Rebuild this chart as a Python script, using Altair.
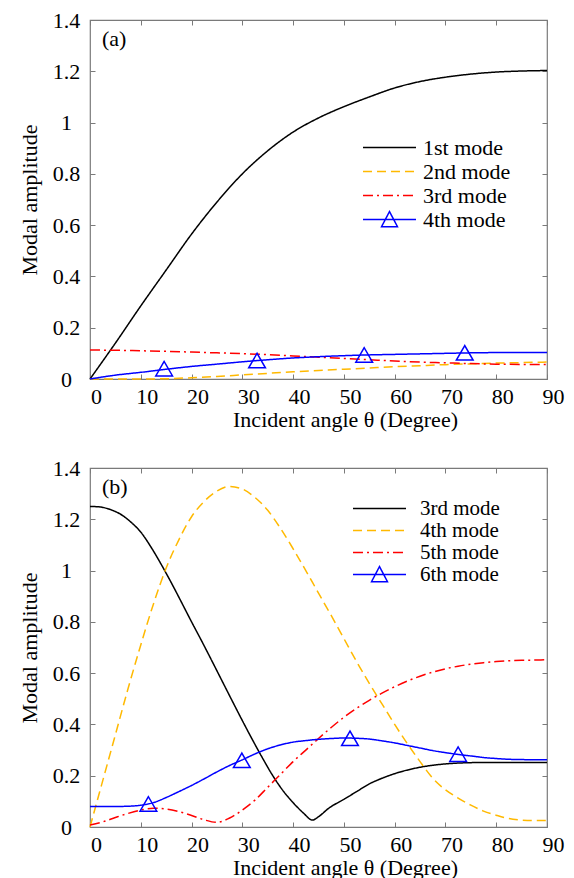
import altair as alt
import pandas as pd

FONT = "Liberation Serif, Times New Roman, Times, serif"
FRAME = "#7a7a7a"

# ---------------- panel (a) ----------------
a_theta = [0, 5, 10, 15, 20, 25, 30, 35, 40, 45, 50, 55, 60, 65, 70, 75, 80, 85, 90]
a_mode1 = [0, 0.14, 0.285, 0.425, 0.565, 0.69, 0.80, 0.89, 0.963, 1.018, 1.062, 1.10, 1.135, 1.16, 1.177, 1.189, 1.197, 1.201, 1.203]
a_mode2 = [0, 0, 0, 0.001, 0.005, 0.01, 0.016, 0.022, 0.028, 0.033, 0.038, 0.043, 0.048, 0.052, 0.056, 0.059, 0.062, 0.064, 0.066]
a_mode3 = [0.113, 0.112, 0.11, 0.108, 0.105, 0.102, 0.099, 0.095, 0.09, 0.085, 0.08, 0.075, 0.07, 0.066, 0.063, 0.06, 0.058, 0.057, 0.057]
a_mode4 = [0, 0.015, 0.026, 0.038, 0.049, 0.058, 0.067, 0.075, 0.082, 0.087, 0.091, 0.094, 0.096, 0.098, 0.1, 0.102, 0.103, 0.103, 0.103]
a_marker_theta = [14.6, 32.9, 54.0, 73.8]
a_marker_amp = [0.04, 0.072, 0.094, 0.102]
a_modes = ["1st mode", "2nd mode", "3rd mode", "4th mode"]

# ---------------- panel (b) ----------------
b_theta3 = [0, 2, 4, 6, 8, 10, 12, 14, 16, 18, 20, 22, 24, 26, 28, 30, 32, 34, 36, 38, 40, 42,
            43.8, 45, 47, 50, 52.5, 55, 57.5, 60, 65, 70, 75, 80, 90]
b_mode3 = [1.25, 1.248, 1.238, 1.22, 1.19, 1.15, 1.092, 1.025, 0.953, 0.877, 0.80, 0.725, 0.648,
           0.57, 0.492, 0.415, 0.34, 0.268, 0.2, 0.142, 0.095, 0.055, 0.027, 0.04, 0.073, 0.108,
           0.138, 0.168, 0.19, 0.208, 0.233, 0.246, 0.251, 0.252, 0.252]
b_theta = [0, 2.5, 5, 7.5, 10, 12.5, 15, 17.5, 20, 22.5, 25, 27.5, 30, 32.5, 35, 37.5, 40, 42.5, 45,
           47.5, 50, 52.5, 55, 57.5, 60, 62.5, 65, 67.5, 70, 72.5, 75, 77.5, 80, 82.5, 85, 87.5, 90]
b_mode4 = [0, 0.18, 0.36, 0.54, 0.71, 0.87, 1.01, 1.12, 1.21, 1.27, 1.31, 1.328, 1.318, 1.285, 1.235,
           1.165, 1.085, 1.0, 0.912, 0.825, 0.735, 0.645, 0.56, 0.48, 0.40, 0.325, 0.255, 0.19, 0.145,
           0.113, 0.085, 0.062, 0.046, 0.033, 0.027, 0.025, 0.025]
b_mode5 = [0.008, 0.02, 0.037, 0.053, 0.066, 0.073, 0.07, 0.06, 0.045, 0.028, 0.018, 0.035, 0.066,
           0.105, 0.155, 0.205, 0.255, 0.30, 0.345, 0.388, 0.428, 0.463, 0.494, 0.522, 0.547, 0.569,
           0.588, 0.604, 0.617, 0.627, 0.635, 0.641, 0.645, 0.648, 0.65, 0.651, 0.652]
b_mode6 = [0.08, 0.08, 0.08, 0.081, 0.085, 0.095, 0.115, 0.138, 0.162, 0.188, 0.215, 0.24, 0.262,
           0.285, 0.305, 0.32, 0.331, 0.337, 0.342, 0.345, 0.347, 0.346, 0.343, 0.336, 0.328, 0.318,
           0.308, 0.298, 0.29, 0.283, 0.277, 0.271, 0.267, 0.264, 0.263, 0.262, 0.262]
b_marker_theta = [11.5, 29.9, 51.2, 72.5]
b_marker_amp = [0.09, 0.26, 0.346, 0.284]
b_modes = ["3rd mode", "4th mode", "5th mode", "6th mode"]

colors = ["#000000", "#FFB900", "#FF0000", "#0000FF"]
dashes = [[1, 0], [9, 5], [10, 4, 2, 4], [1, 0]]

x_ticks = [0, 10, 20, 30, 40, 50, 60, 70, 80, 90]
y_ticks = [0, 0.2, 0.4, 0.6, 0.8, 1.0, 1.2, 1.4]

TRI_PATH = "M-1,0H1M-0.3,0.27L0,-0.3L0.3,0.27Z"

W, H = 457, 359


def long_df(pairs, modes):
    rows = []
    for (xs, ys), m in zip(pairs, modes):
        for xv, yv in zip(xs, ys):
            rows.append({"theta": xv, "amp": yv, "mode": m})
    return pd.DataFrame(rows)


def panel(df, mk_x, mk_y, modes, tri_label, tag, leg_x, leg_y, row_h, lab_off, leg_fs):
    xs = alt.Scale(domain=[0, 90], nice=False, zero=False)
    ys = alt.Scale(domain=[0, 1.4], nice=False, zero=False)
    legend = alt.Legend(
        orient="none", legendX=leg_x, legendY=leg_y, title=None,
        symbolType=alt.ExprRef(f"datum.value === '{tri_label}' ? '{TRI_PATH}' : 'stroke'"),
        symbolSize=2809, symbolStrokeWidth=1.5,
        symbolFillColor="transparent",
        labelFont=FONT, labelFontSize=leg_fs, labelColor="black", labelOffset=lab_off,
        clipHeight=row_h, rowPadding=0, padding=0,
    )
    x_axis = alt.Axis(orient="bottom", values=x_ticks, format="d", offset=-5, tickSize=5,
                      tickColor=FRAME, domain=False, grid=False, labelFont=FONT,
                      labelFontSize=22, labelColor="black", labelPadding=7, labelOffset=6,
                      labelFlush=False, labelOverlap=False,
                      title="Incident angle θ (Degree)", titleFont=FONT, titleFontSize=22,
                      titleFontWeight="normal", titleColor="black", titleX=255, titleY=52,
                      titleBaseline="alphabetic", titleAnchor="middle", titleAlign="center")
    y_axis = alt.Axis(orient="left", values=y_ticks, format="~g", offset=-5, tickSize=5,
                      tickColor=FRAME, domain=False, grid=False, labelFont=FONT,
                      labelFontSize=22, labelColor="black", labelPadding=24,
                      labelAlign="center", labelBaseline="middle", labelFlush=False,
                      labelOverlap=False,
                      title="Modal amplitude", titleFont=FONT, titleFontSize=22,
                      titleFontWeight="normal", titleColor="black", titleX=-66,
                      titleY=H / 2, titleBaseline="middle", titleAlign="center", titleAngle=270)
    x_top = alt.Axis(orient="top", values=x_ticks, offset=-5, tickSize=5, tickColor=FRAME,
                     domain=False, grid=False, labels=False, title=None)
    y_right = alt.Axis(orient="right", values=y_ticks, offset=-5, tickSize=5, tickColor=FRAME,
                       domain=False, grid=False, labels=False, title=None)

    lines = alt.Chart(df).mark_line(strokeWidth=1.5, interpolate="monotone").encode(
        x=alt.X("theta:Q", scale=xs, axis=x_axis),
        y=alt.Y("amp:Q", scale=ys, axis=y_axis),
        color=alt.Color("mode:N", scale=alt.Scale(domain=modes, range=colors), legend=legend),
        strokeDash=alt.StrokeDash("mode:N", scale=alt.Scale(domain=modes, range=dashes),
                                  legend=legend),
    )
    mdf = pd.DataFrame({"theta": mk_x, "amp": mk_y})
    marks = alt.Chart(mdf).mark_point(shape="triangle-up", filled=False, size=280,
                                      strokeWidth=1.5, color="#0000FF", opacity=1).encode(
        x=alt.X("theta:Q", scale=xs, axis=x_top),
        y=alt.Y("amp:Q", scale=ys, axis=y_right),
    )
    tdf = pd.DataFrame({"tag": [tag]})
    tag_mark = alt.Chart(tdf).mark_text(font=FONT, fontSize=22, align="left",
                                        baseline="alphabetic", color="black").encode(
        text="tag:N", x=alt.value(12), y=alt.value(26))
    return alt.layer(lines, marks, tag_mark).resolve_axis(
        x="independent", y="independent").properties(width=W, height=H)


df_a = long_df([(a_theta, a_mode1), (a_theta, a_mode2), (a_theta, a_mode3), (a_theta, a_mode4)],
               a_modes)
df_b = long_df([(b_theta3, b_mode3), (b_theta, b_mode4), (b_theta, b_mode5), (b_theta, b_mode6)],
               b_modes)

pa = panel(df_a, a_marker_theta, a_marker_amp, a_modes, "4th mode", "(a)", 272, 115.5, 24, 6, 22)
pb = panel(df_b, b_marker_theta, b_marker_amp, b_modes, "6th mode", "(b)", 262, 30, 21, 13, 21)

chart = alt.vconcat(pa, pb, spacing=89, bounds="flush").resolve_scale(
    color="independent", strokeDash="independent"
).configure_view(stroke=FRAME, strokeWidth=1.2).properties(
    padding={"left": 17, "top": 8, "right": 5, "bottom": 0},
    background="white",
)

chart.save("out.html", embed_options={"renderer": "svg", "actions": False})
